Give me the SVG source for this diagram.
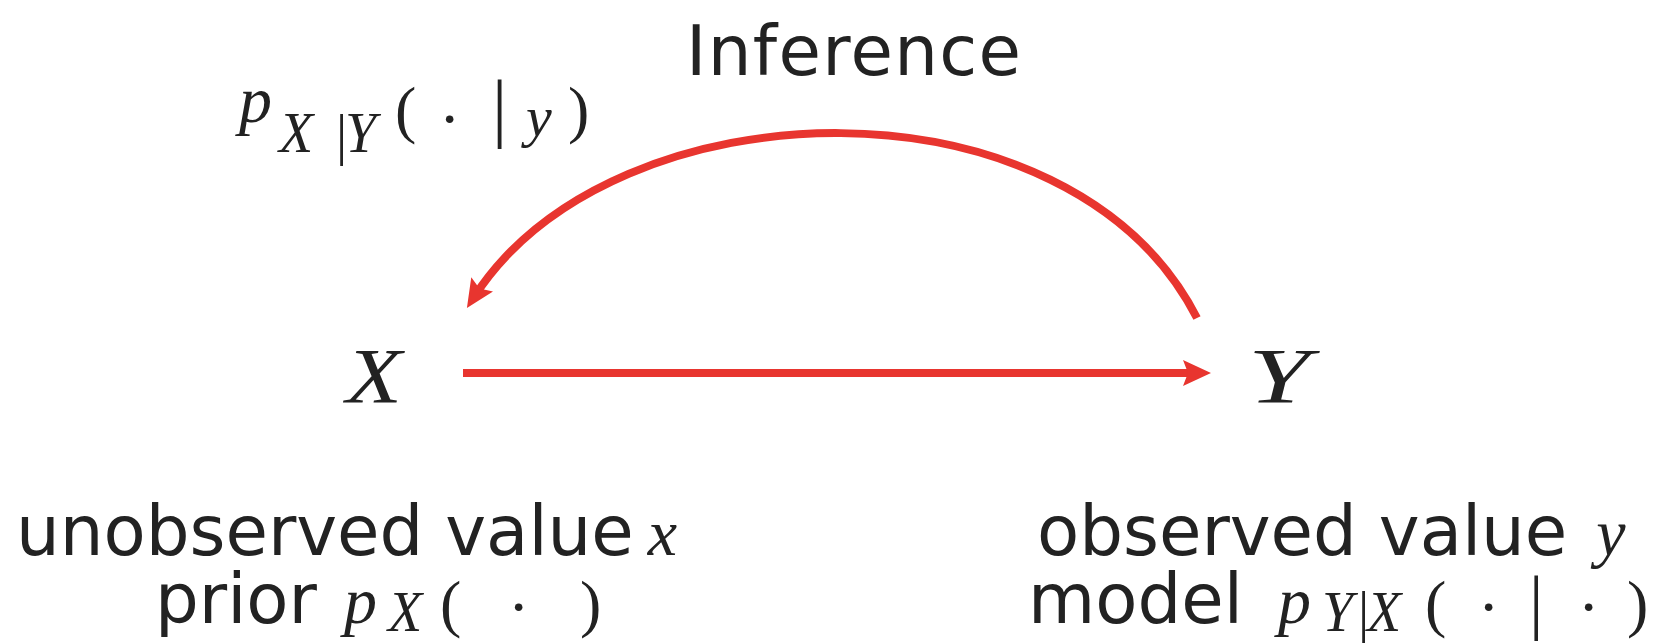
<svg xmlns="http://www.w3.org/2000/svg" width="1660" height="644" viewBox="0 0 1660 644">
<defs>
<style>
.lbl{font-family:"DejaVu Sans","Verdana",sans-serif;font-size:69px;fill:#222;}
.mi{font-family:"Liberation Serif","Times New Roman",serif;font-style:italic;fill:#222;}
.mr{font-family:"Liberation Serif","Times New Roman",serif;fill:#222;}
.edge{fill:none;stroke:#e8352f;stroke-width:8;}
</style>
<marker id="ah" markerUnits="userSpaceOnUse" markerWidth="28" markerHeight="26" refX="15" refY="13" orient="auto">
<path d="M0,0 L28,13 L0,26 L5,13 Z" fill="#e8352f"/>
</marker>
</defs>
<rect width="1660" height="644" fill="#fff"/>
<g id="connectors">
<path class="edge" d="M463,373 L1198,373" marker-end="url(#ah)"/>
<path class="edge" d="M1197,318 C1070,70 615,80 474,297" marker-end="url(#ah)"/>
</g>
<g id="inference-label">
<text class="lbl" x="686" y="75" textLength="335" lengthAdjust="spacing">Inference</text>
<text><tspan class="mi" font-size="66" x="239" y="122">p</tspan><tspan class="mi" font-size="56" x="279" y="152">X</tspan><tspan class="mr" font-size="56" x="336" y="154">|</tspan><tspan class="mi" font-size="56" x="345" y="152">Y</tspan><tspan class="mr" font-size="64" x="395" y="131">(</tspan><tspan class="mr" font-size="64" x="439" y="140">·</tspan><tspan class="mr" font-size="76" x="492" y="133">|</tspan><tspan class="mi" font-size="58" x="526" y="136">y</tspan><tspan class="mr" font-size="64" x="568" y="131">)</tspan></text>
</g>
<g id="node-X">
<text class="mi" font-size="78" x="346" y="402" textLength="56" lengthAdjust="spacingAndGlyphs">X</text>
<text class="lbl" x="16" y="555">unobserved value<tspan class="mi" font-size="66" dx="14">x</tspan></text>
<text><tspan class="lbl" x="155" y="623">prior</tspan><tspan class="mi" font-size="66" x="344" y="623">p</tspan><tspan class="mi" font-size="56" x="388" y="631">X</tspan><tspan class="mr" font-size="64" x="440" y="625">(</tspan><tspan class="mr" font-size="64" x="508" y="628">·</tspan><tspan class="mr" font-size="64" x="580" y="625">)</tspan></text>
</g>
<g id="node-Y">
<text class="mi" font-size="78" x="1248" y="402" textLength="62" lengthAdjust="spacingAndGlyphs">Y</text>
<text class="lbl" x="1037" y="555">observed value<tspan class="mi" font-size="66" dx="29">y</tspan></text>
<text><tspan class="lbl" x="1028" y="623">model</tspan><tspan class="mi" font-size="66" x="1278" y="623">p</tspan><tspan class="mi" font-size="56" x="1322" y="631">Y</tspan><tspan class="mr" font-size="56" x="1358" y="631">|</tspan><tspan class="mi" font-size="56" x="1367" y="631">X</tspan><tspan class="mr" font-size="64" x="1425" y="625">(</tspan><tspan class="mr" font-size="64" x="1478" y="628">·</tspan><tspan class="mr" font-size="72" x="1529" y="626">|</tspan><tspan class="mr" font-size="64" x="1578" y="628">·</tspan><tspan class="mr" font-size="64" x="1627" y="625">)</tspan></text>
</g>
</svg>
